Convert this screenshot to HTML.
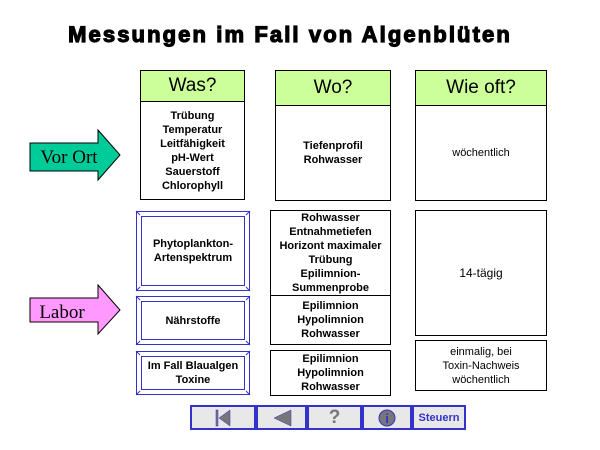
<!DOCTYPE html>
<html><head><meta charset="utf-8"><style>
body{margin:0;width:600px;height:450px;background:#fff;position:relative;overflow:hidden;font-family:"Liberation Sans",Arial,sans-serif}
.a{position:absolute;box-sizing:border-box}
.box{border:1px solid #000;background:#fff;display:flex;align-items:center;justify-content:center;text-align:center;font-weight:bold;font-size:11px;line-height:14px}
.hd{background:#ccff99;border:1px solid #000;display:flex;align-items:center;justify-content:center;font-size:19px}
.reg{font-weight:normal}
.bev{border:1px solid #3333cc;background:#fff}
.bev>div{position:absolute;left:4px;top:4px;right:4px;bottom:4px;border:1px solid #3333cc;display:flex;align-items:center;justify-content:center;text-align:center;font-weight:bold;font-size:11px;line-height:14px}
.btn{position:absolute;top:0;height:25px;background:#e8e8e8;border:2px solid #3333cc;box-sizing:border-box;display:flex;align-items:center;justify-content:center}
</style></head><body>
<div class="a" style="left:60px;top:22px;width:460px;text-align:center;font-size:22px;font-weight:bold;letter-spacing:2.1px;-webkit-text-stroke:1.2px #000;white-space:nowrap">Messungen im Fall von Algenblüten</div>

<div class="a hd" style="left:140px;top:70px;width:105px;height:32px">Was?</div>
<div class="a box" style="left:140px;top:101px;width:105px;height:99px">Trübung<br>Temperatur<br>Leitfähigkeit<br>pH-Wert<br>Sauerstoff<br>Chlorophyll</div>
<div class="a hd" style="left:275px;top:70px;width:116px;height:36px">Wo?</div>
<div class="a box" style="left:275px;top:105px;width:116px;height:96px">Tiefenprofil<br>Rohwasser</div>
<div class="a hd" style="left:415px;top:70px;width:132px;height:36px">Wie oft?</div>
<div class="a box reg" style="left:415px;top:105px;width:132px;height:96px">wöchentlich</div>

<div class="a bev" style="left:136px;top:211px;width:114px;height:80px"><div>Phytoplankton-<br>Artenspektrum</div></div>
<div class="a bev" style="left:136px;top:296px;width:114px;height:49px"><div>Nährstoffe</div></div>
<div class="a bev" style="left:136px;top:351px;width:114px;height:44px"><div>Im Fall Blaualgen<br>Toxine</div></div>

<div class="a box" style="left:270px;top:210px;width:121px;height:86px">Rohwasser<br>Entnahmetiefen<br>Horizont maximaler<br>Trübung<br>Epilimnion-<br>Summenprobe</div>
<div class="a box" style="left:270px;top:295px;width:121px;height:50px">Epilimnion<br>Hypolimnion<br>Rohwasser</div>
<div class="a box" style="left:270px;top:350px;width:121px;height:46px">Epilimnion<br>Hypolimnion<br>Rohwasser</div>

<div class="a box reg" style="left:415px;top:210px;width:132px;height:126px;font-size:12px">14-tägig</div>
<div class="a box reg" style="left:415px;top:340px;width:132px;height:51px">einmalig, bei<br>Toxin-Nachweis<br>wöchentlich</div>

<svg class="a" style="left:0;top:0" width="600" height="450">
<g stroke="#3333cc" stroke-width="1">
<line x1="136" y1="211" x2="140" y2="215"/><line x1="250" y1="211" x2="246" y2="215"/><line x1="136" y1="291" x2="140" y2="287"/><line x1="250" y1="291" x2="246" y2="287"/>
<line x1="136" y1="296" x2="140" y2="300"/><line x1="250" y1="296" x2="246" y2="300"/><line x1="136" y1="345" x2="140" y2="341"/><line x1="250" y1="345" x2="246" y2="341"/>
<line x1="136" y1="351" x2="140" y2="355"/><line x1="250" y1="351" x2="246" y2="355"/><line x1="136" y1="395" x2="140" y2="391"/><line x1="250" y1="395" x2="246" y2="391"/>
</g>
<polygon points="30,143 98,143 98,130 120,155 98,180 98,171 30,171" fill="#00cc99" stroke="#000" stroke-width="1"/>
<text x="69" y="163" font-family="Liberation Serif" font-size="19" text-anchor="middle">Vor Ort</text>
<polygon points="30,298 98,298 98,285 120,310 98,334 98,322 30,322" fill="#ff99ff" stroke="#000" stroke-width="1"/>
<text x="62" y="318" font-family="Liberation Serif" font-size="19" text-anchor="middle">Labor</text>
</svg>

<div class="a" style="left:190px;top:405px;width:276px;height:26px">
<div class="btn" style="left:0;width:66px"><svg width="20" height="18"><rect x="3" y="1" width="2" height="16" fill="#777" stroke="#3333cc" stroke-width=".5"/><polygon points="17,1 6,9 17,17" fill="#777" stroke="#3333cc" stroke-width=".5"/></svg></div>
<div class="btn" style="left:66px;width:51px"><svg width="22" height="18"><polygon points="20,1 3,9 20,17" fill="#777" stroke="#3333cc" stroke-width=".5"/></svg></div>
<div class="btn" style="left:117px;width:55px;font-weight:bold;font-size:19px;color:#777">?</div>
<div class="btn" style="left:172px;width:50px"><svg width="18" height="18"><circle cx="9" cy="9" r="8" fill="#777" stroke="#3333cc"/><text x="9" y="14" font-size="13" font-weight="bold" text-anchor="middle" fill="#3333cc">i</text></svg></div>
<div class="btn" style="left:222px;width:54px;font-weight:bold;font-size:11px;color:#3333cc">Steuern</div>
</div>
</body></html>
